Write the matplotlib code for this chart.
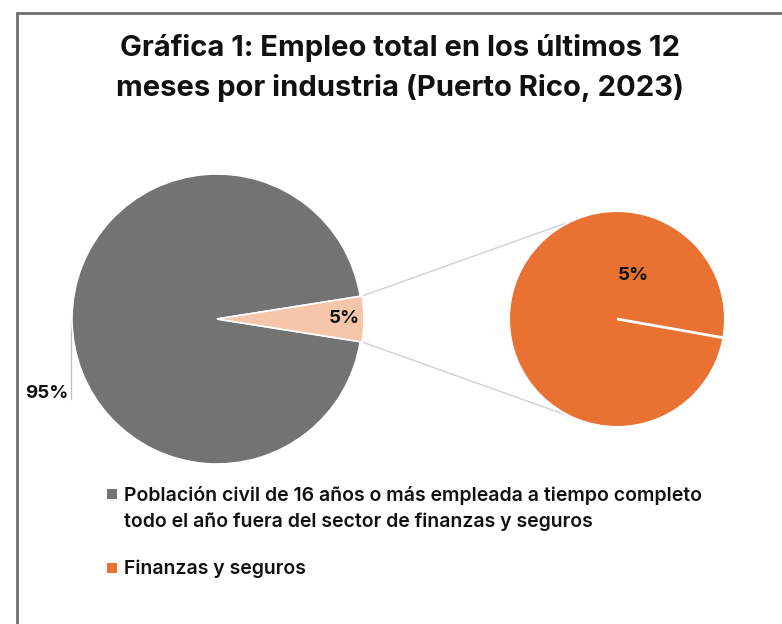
import numpy as np
import matplotlib.pyplot as plt
from matplotlib.patches import Rectangle

plt.rcParams['font.family'] = ['Inter', 'DejaVu Sans']

# Data
categories = ['Población civil de 16 años o más empleada a tiempo completo\ntodo el año fuera del sector de finanzas y seguros',
              'Finanzas y seguros']
main_values = [95, 5]
sub_values = [5]
main_labels = ['95%', '5%']
sub_labels = ['5%']

gray = '#737373'
peach = '#F5C6AA'
orange = '#E97132'

W, H = 782, 624
fig = plt.figure(figsize=(W / 100, H / 100), dpi=100)
ax = fig.add_axes([0, 0, 1, 1])

# main pie (pixel-like coordinates, y up)
c1 = (217, H - 319)
r1 = 145
w1, _ = ax.pie(main_values, colors=[gray, peach], startangle=9, radius=r1, center=c1,
               wedgeprops=dict(edgecolor='white', linewidth=1.2))
# peach slightly bigger, like Excel's pie of pie
w1[1].set_radius(r1 + 2)

# second pie
c2 = (617, H - 319)
r2 = 108
w2, _ = ax.pie(sub_values, colors=[orange], startangle=-10, radius=r2, center=c2,
               wedgeprops=dict(edgecolor='white', linewidth=1.5))
# single slice: draw its boundary line
a0 = np.deg2rad(w2[0].theta1)
ax.plot([c2[0], c2[0] + r2 * np.cos(a0)], [c2[1], c2[1] + r2 * np.sin(a0)],
        color='white', lw=2, solid_capstyle='butt')

# connector lines
sl = w1[1]
for ang_main, ang_sub in [(sl.theta2, 115), (sl.theta1, -115)]:
    a = np.deg2rad(ang_main)
    b = np.deg2rad(ang_sub)
    x0 = c1[0] + sl.r * np.cos(a)
    y0 = c1[1] + sl.r * np.sin(a)
    x1 = c2[0] + r2 * np.cos(b)
    y1 = c2[1] + r2 * np.sin(b)
    ax.plot([x0, x1], [y0, y1], color='#d0d0d0', lw=1.0, zorder=0)

# data labels
# 95% with leader line from leftmost point
mid = np.deg2rad((w1[0].theta1 + w1[0].theta2) / 2)
lx = c1[0] + r1 * np.cos(mid)
ly = c1[1] + r1 * np.sin(mid)
ax.plot([lx - 1, lx - 1], [ly, ly - 80], color='#bfbfbf', lw=0.9, zorder=0)
ax.text(lx - 4, ly - 75, main_labels[0], ha='right', va='center',
        fontsize=13.5, fontweight='bold', color='#111111')
# 5% inside peach slice
m2 = np.deg2rad((sl.theta1 + sl.theta2) / 2)
ax.text(c1[0] + 0.88 * r1 * np.cos(m2), c1[1] + 0.88 * r1 * np.sin(m2), main_labels[1],
        ha='center', va='center', fontsize=13.5, fontweight='bold', color='#111111')
# 5% in second pie
ax.text(c2[0] + 16, c2[1] + 43, sub_labels[0], ha='center', va='center',
        fontsize=13.5, fontweight='bold', color='#111111')

# legend (drawn by hand so the marker sits on the first text line)
leg_y = [H - 494, H - 568]
for wedge, label, y in zip([w1[0], w2[0]], categories, leg_y):
    ax.scatter([112], [y], marker='s', s=55, color=wedge.get_facecolor(), linewidths=0)
    ax.text(124, y + 8, label, ha='left', va='top', fontsize=14, fontweight='semibold',
            color='#111111', linespacing=1.5)

ax.set_xlim(0, W)
ax.set_ylim(0, H)
ax.set_aspect('equal')
ax.axis('off')

# title
fig.text(400 / W, 1 - 68 / H,
         'Gráfica 1: Empleo total en los últimos 12\nmeses por industria (Puerto Rico, 2023)',
         ha='center', va='center', fontsize=21, fontweight='bold', color='#111111',
         linespacing=1.55)

# chart border
fig.patches.append(Rectangle((17 / W, -0.1), 1.2, 1 - 13 / H + 0.1, transform=fig.transFigure,
                             fill=False, edgecolor='#6e6e6e', lw=2))

fig.savefig('out.png', dpi=100)
